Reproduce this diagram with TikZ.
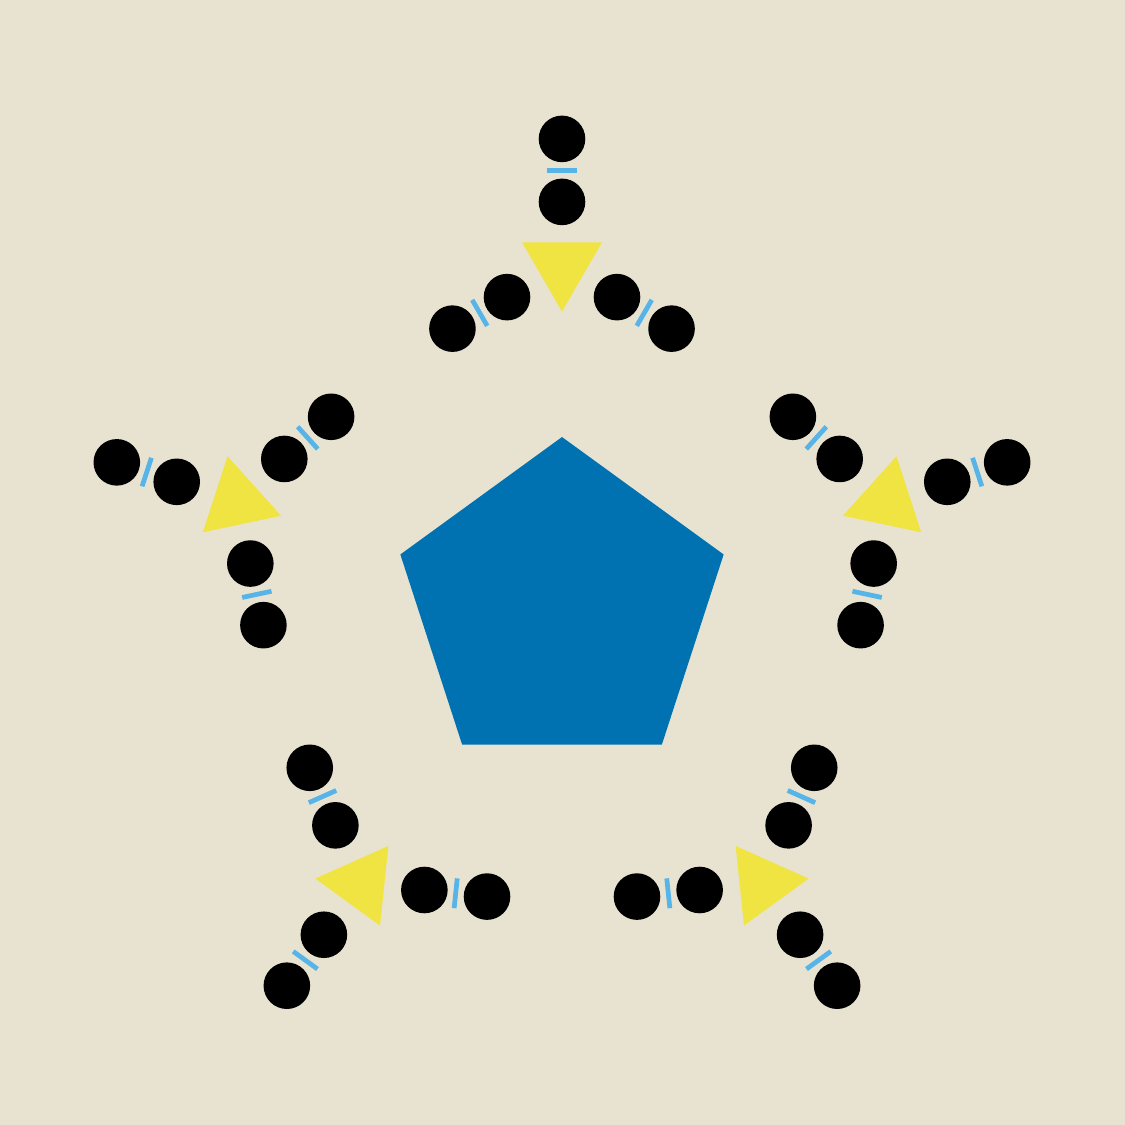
\documentclass[tikz,border=0pt]{standalone}
\usepackage{tikz}
\usetikzlibrary{calc,shapes.geometric}

\definecolor{bgsand}{HTML}{E8E3D1}
\definecolor{pentblue}{HTML}{0072B2}
\definecolor{triyellow}{HTML}{F0E442}
\definecolor{bondblue}{HTML}{56B4E9}

\tikzset{
  atom/.style={circle, fill=black, inner sep=0pt, minimum size=0.932cm},
  bond/.style={draw=bondblue, line width=2.7pt},
  tri/.style={fill=triyellow},
}

\begin{document}
\begin{tikzpicture}[x=0.02cm, y=0.02cm]
\fill[bgsand] (-562,-518) rectangle (563,607);
\useasboundingbox (-562,-518) rectangle (563,607);
\node[regular polygon, regular polygon sides=5, fill=pentblue, inner sep=0pt, minimum size=6.8cm] (pent) at (0,0) {};
%
\foreach \g in {0,...,4} {
  \begin{scope}[rotate=72*\g, shift={(0,341.6)}]
    \fill[tri] (-90:46.2) -- (30:46.2) -- (150:46.2) -- cycle;
    \foreach \a in {90,210,330} {
      \node[atom] (in-\g-\a) at (\a:63.5) {};
      \node[atom] (out-\g-\a) at (\a:126.5) {};
      \draw[bond] ($(in-\g-\a)!0.5!(out-\g-\a)!0.3cm!90:(out-\g-\a)$) -- ($(in-\g-\a)!0.5!(out-\g-\a)!0.3cm!-90:(out-\g-\a)$);
    }
  \end{scope}
}
\end{tikzpicture}
\end{document}
